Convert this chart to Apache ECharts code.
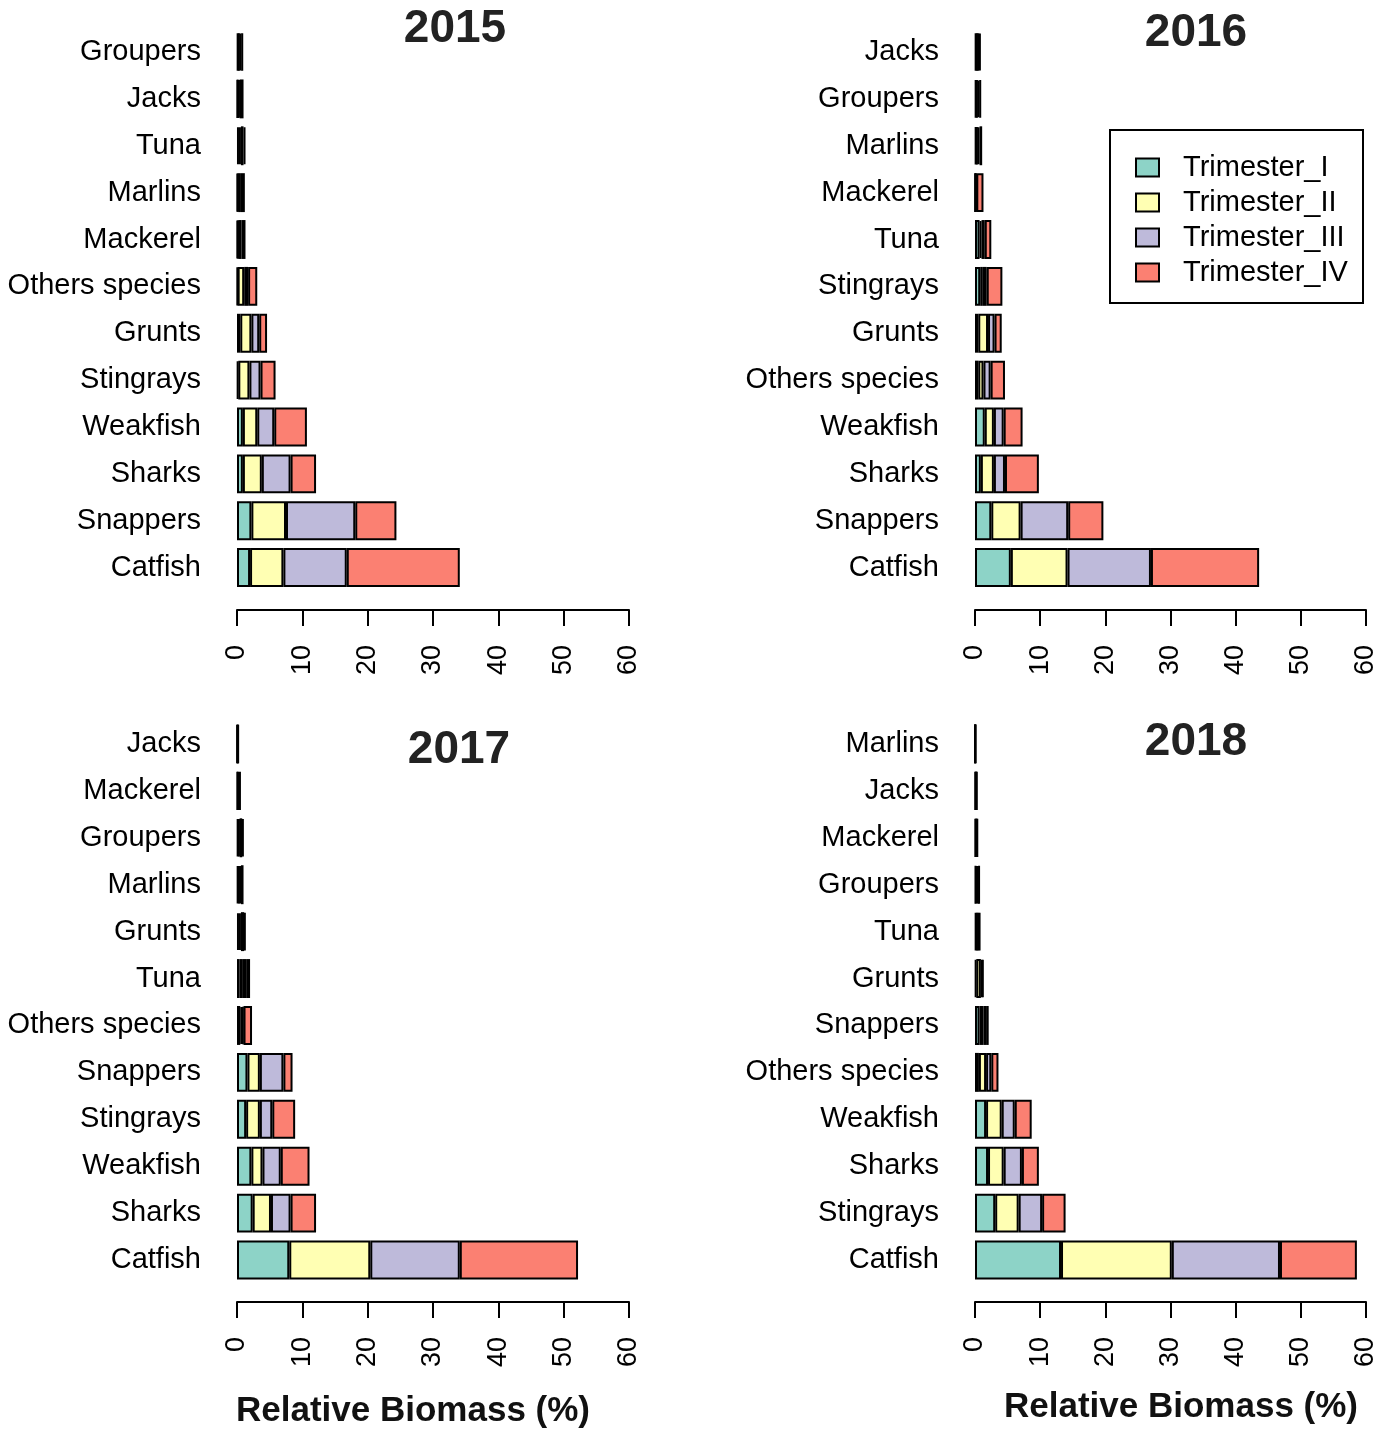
<!DOCTYPE html>
<html>
<head>
<meta charset="utf-8">
<title>Relative Biomass by Trimester, 2015–2018</title>
<script src="https://cdn.jsdelivr.net/npm/echarts@6/dist/echarts.min.js"></script>
<style>
  html, body { margin: 0; padding: 0; background: #fff; }
  #chart { width: 1393px; height: 1429px; }
</style>
</head>
<body>
<div id="chart"></div>
<script>
// Species order per year (bottom to top), relative biomass (%) per trimester.
const trimesters = ['Trimester_I', 'Trimester_II', 'Trimester_III', 'Trimester_IV'];
const years = ['2015', '2016', '2017', '2018'];
const xTicks = [0, 10, 20, 30, 40, 50, 60];

const species2015 = ['Catfish', 'Snappers', 'Sharks', 'Weakfish', 'Stingrays', 'Grunts', 'Others species', 'Mackerel', 'Marlins', 'Tuna', 'Jacks', 'Groupers'];
const t1_2015 = [2.0, 2.2, 0.9, 0.9, 0.2, 0.5, 0.1, 0.1, 0.1, 0.3, 0.1, 0.2];
const t2_2015 = [5.1, 5.3, 2.9, 2.2, 1.7, 1.7, 1.0, 0.1, 0.1, 0.3, 0.1, 0.2];
const t3_2015 = [9.7, 10.6, 4.4, 2.6, 1.7, 1.2, 0.6, 0.5, 0.4, 0.4, 0.2, 0.3];
const t4_2015 = [17.3, 6.3, 3.9, 5.0, 2.3, 1.2, 1.4, 0.6, 0.6, 0.3, 0.6, 0.2];

const species2016 = ['Catfish', 'Snappers', 'Sharks', 'Weakfish', 'Others species', 'Grunts', 'Stingrays', 'Tuna', 'Mackerel', 'Marlins', 'Groupers', 'Jacks'];
const t1_2016 = [5.5, 2.5, 0.9, 1.5, 0.5, 0.5, 0.8, 0.7, 0.05, 0.2, 0.2, 0.2];
const t2_2016 = [8.7, 4.5, 2.0, 1.4, 0.8, 1.5, 0.4, 0.3, 0.05, 0.2, 0.2, 0.2];
const t3_2016 = [12.8, 7.3, 1.7, 1.5, 1.1, 1.0, 0.6, 0.5, 0.1, 0.3, 0.3, 0.2];
const t4_2016 = [16.6, 5.4, 5.2, 2.9, 2.2, 1.1, 2.4, 1.0, 1.1, 0.4, 0.2, 0.3];

const species2017 = ['Catfish', 'Sharks', 'Weakfish', 'Stingrays', 'Snappers', 'Others species', 'Tuna', 'Grunts', 'Marlins', 'Groupers', 'Mackerel', 'Jacks'];
const t1_2017 = [8.0, 2.4, 2.2, 1.4, 1.6, 0.5, 0.4, 0.3, 0.2, 0.2, 0.1, 0.05];
const t2_2017 = [12.4, 2.8, 1.7, 2.1, 1.9, 0.3, 0.5, 0.3, 0.2, 0.2, 0.1, 0.05];
const t3_2017 = [13.7, 3.0, 2.8, 1.9, 3.6, 0.2, 0.5, 0.5, 0.2, 0.4, 0.2, 0.05];
const t4_2017 = [18.1, 3.9, 4.4, 3.5, 1.4, 1.3, 0.6, 0.2, 0.4, 0.2, 0.1, 0.05];

const species2018 = ['Catfish', 'Stingrays', 'Sharks', 'Weakfish', 'Others species', 'Snappers', 'Grunts', 'Tuna', 'Groupers', 'Mackerel', 'Jacks', 'Marlins'];
const t1_2018 = [13.2, 3.1, 2.0, 1.7, 0.6, 0.7, 0.2, 0.2, 0.15, 0.1, 0.08, 0.02];
const t2_2018 = [17.0, 3.6, 2.4, 2.4, 1.1, 0.6, 0.7, 0.2, 0.2, 0.1, 0.08, 0.02];
const t3_2018 = [16.6, 3.6, 2.8, 2.0, 0.8, 0.4, 0.2, 0.2, 0.2, 0.1, 0.07, 0.02];
const t4_2018 = [11.8, 3.6, 2.6, 2.6, 1.1, 0.4, 0.2, 0.2, 0.15, 0.1, 0.07, 0.02];

const speciesByYear = [species2015, species2016, species2017, species2018];
const valuesByYear = [
  [t1_2015, t2_2015, t3_2015, t4_2015],
  [t1_2016, t2_2016, t3_2016, t4_2016],
  [t1_2017, t2_2017, t3_2017, t4_2017],
  [t1_2018, t2_2018, t3_2018, t4_2018]
];

const palette = ['#8DD3C7', '#FFFFB3', '#BEBADA', '#FB8072'];
const FONT = "'Liberation Sans', Arial, Helvetica, sans-serif";

// Panel frames: plot area and how far below it the value axis sits
const panels = [
  { left: 237, top: 28.6, width: 392, height: 562.4, offset: 19 },
  { left: 975, top: 28.6, width: 391, height: 562.4, offset: 19 },
  { left: 237, top: 720.5, width: 392, height: 563, offset: 18.5 },
  { left: 975, top: 720.5, width: 391, height: 563, offset: 18.5 }
];

const grids = panels.map(p => ({ left: p.left, top: p.top, width: p.width, height: p.height, containLabel: false }));

const xAxes = panels.map((p, i) => ({
  type: 'value',
  gridIndex: i,
  min: xTicks[0],
  max: xTicks[xTicks.length - 1],
  interval: 10,
  offset: p.offset,
  axisLine: { show: true, lineStyle: { color: '#000', width: 2 } },
  axisTick: { show: true, length: 16, lineStyle: { color: '#000', width: 2 } },
  axisLabel: { rotate: 90, fontSize: 27, color: '#000', fontFamily: FONT, margin: 35 },
  splitLine: { show: false }
}));

const yAxes = speciesByYear.map((cats, i) => ({
  type: 'category',
  gridIndex: i,
  data: cats,
  axisLine: { show: false },
  axisTick: { show: false },
  axisLabel: { fontSize: 29, color: '#000', fontFamily: FONT, margin: 36 },
  splitLine: { show: false }
}));

const series = [];
valuesByYear.forEach((vals, i) => {
  vals.forEach((arr, t) => {
    series.push({
      type: 'bar',
      name: trimesters[t],
      stack: 'year' + i,
      xAxisIndex: i,
      yAxisIndex: i,
      barCategoryGap: '17%',
      data: arr,
      itemStyle: { color: palette[t], borderColor: '#000', borderWidth: 2 },
      emphasis: { disabled: true }
    });
  });
});

const titlePos = [[455, 29], [1196, 33], [459, 750], [1196, 742]];
const axisNamePos = [[413, 1411], [1181, 1407]];

const graphics = [];
years.forEach((y, i) => {
  graphics.push({
    type: 'text', x: titlePos[i][0], y: titlePos[i][1],
    style: { text: y, textAlign: 'center', textVerticalAlign: 'middle', font: 'bold 46px ' + FONT, fill: '#222' }
  });
});
axisNamePos.forEach(p => {
  graphics.push({
    type: 'text', x: p[0], y: p[1],
    style: { text: 'Relative Biomass (%)', textAlign: 'center', textVerticalAlign: 'middle', font: 'bold 35px ' + FONT, fill: '#111' }
  });
});
// Legend frame
graphics.push({
  type: 'rect',
  shape: { x: 1110, y: 130, width: 253, height: 173 },
  style: { fill: 'none', stroke: '#000', lineWidth: 2 }
});

const option = {
  animation: false,
  backgroundColor: '#fff',
  grid: grids,
  xAxis: xAxes,
  yAxis: yAxes,
  legend: {
    data: trimesters,
    orient: 'vertical',
    left: 1135,
    top: 153,
    padding: 0,
    itemWidth: 23,
    itemHeight: 18,
    itemGap: 6,
    icon: 'rect',
    selectedMode: false,
    itemStyle: { borderColor: '#000', borderWidth: 2 },
    textStyle: { fontSize: 29, lineHeight: 28, color: '#000', fontFamily: FONT, padding: [0, 0, 0, 19] }
  },
  graphic: graphics,
  series: series
};

const chart = echarts.init(document.getElementById('chart'), null, { renderer: 'canvas' });
chart.setOption(option);
</script>
</body>
</html>
